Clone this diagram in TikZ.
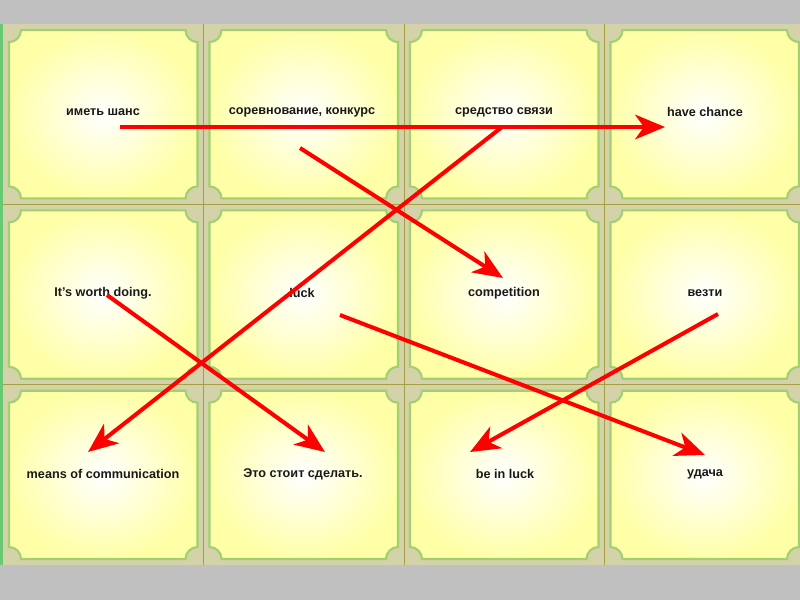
\documentclass[tikz,border=0pt]{standalone}
\usepackage{fontspec}
\setmainfont{Liberation Sans}
\usetikzlibrary{arrows.meta, positioning, calc}
\definecolor{slidegray}{RGB}{192,192,192}
\definecolor{khaki}{RGB}{212,210,168}
\definecolor{olive}{RGB}{165,160,70}
\definecolor{cardedge}{RGB}{160,208,112}
\definecolor{cardfill}{RGB}{255,255,168}
\definecolor{leftgreen}{RGB}{105,200,115}

\begin{document}
\begin{tikzpicture}[
    x=0.02cm, y=0.02cm,
    font       = \fontsize{7.2}{9}\selectfont\bfseries,
    word/.style = {inner sep=1pt, text=black!90},
    card/.style = {draw=cardedge, line width=1.2pt,
                   inner color=white, outer color=cardfill},
    arr/.style  = {-{Stealth[length=17pt, width=14pt, inset=5pt]},
                   red, line width=2.3pt},
  ]
  \clip (0,0) rectangle (800,600);
  \fill[slidegray] (0,0) rectangle (800,600);
  \fill[khaki] (3,35) rectangle (805,576);
  \fill[leftgreen] (0,35) rectangle (3,576);
  % grid of cards
  \foreach \i in {0,...,3} {
    \foreach \j in {0,...,2} {
      \pgfmathsetmacro{\xa}{3+\i*200.5+6}
      \pgfmathsetmacro{\xb}{3+(\i+1)*200.5-6}
      \pgfmathsetmacro{\ya}{35+\j*180.3+6}
      \pgfmathsetmacro{\yb}{35+(\j+1)*180.3-6}
      \draw[card] (\xa+12,\ya) -- (\xb-12,\ya) arc (180:90:0.24cm)
        -- (\xb,\yb-12) arc (270:180:0.24cm)
        -- (\xa+12,\yb) arc (0:-90:0.24cm)
        -- (\xa,\ya+12) arc (90:0:0.24cm) -- cycle;
    }
  }
  \foreach \i in {1,2,3} \draw[olive, line width=0.5pt] (3+\i*200.5,35) -- (3+\i*200.5,576);
  \foreach \j in {1,2} \draw[olive, line width=0.5pt] (3,35+\j*180.3) -- (805,35+\j*180.3);

  % words
  \node[word] (imet)     at (103,488) {иметь шанс};
  \node[word] (sorevn)   at (302,488) {соревнование, конкурс};
  \node[word] (sredstvo) at (504,488) {средство связи};
  \node[word] (have)     at (705,488) {have chance};
  \node[word] (worth)    at (103,307) {It's worth doing.};
  \node[word] (luck)     at (302,307) {luck};
  \node[word] (compet)   at (504,307) {competition};
  \node[word] (vezti)    at (705,307) {везти};
  \node[word] (means)    at (103,126) {means of communication};
  \node[word] (eto)      at (303,126) {Это стоит сделать.};
  \node[word] (bein)     at (505,126) {be in luck};
  \node[word] (udacha)   at (705,126) {удача};

  % arrow ends
  \coordinate (imet-o)     at (120,473);
  \coordinate (have-i)     at (665,473);
  \coordinate (sorevn-o)   at (300,452);
  \coordinate (compet-i)   at (503,322);
  \coordinate (sredstvo-o) at (502,473);
  \coordinate (means-i)    at (88,148);
  \coordinate (worth-o)    at (107,305);
  \coordinate (eto-i)      at (325,148);
  \coordinate (luck-o)     at (340,285);
  \coordinate (udacha-i)   at (705,145);
  \coordinate (vezti-o)    at (718,286);
  \coordinate (bein-i)     at (470,148);

  \draw[arr] (imet-o) -- (have-i);
  \draw[arr] (sorevn-o) -- (compet-i);
  \draw[arr] (sredstvo-o) -- (means-i);
  \draw[arr] (worth-o) -- (eto-i);
  \draw[arr] (luck-o) -- (udacha-i);
  \draw[arr] (vezti-o) -- (bein-i);
\end{tikzpicture}
\end{document}
